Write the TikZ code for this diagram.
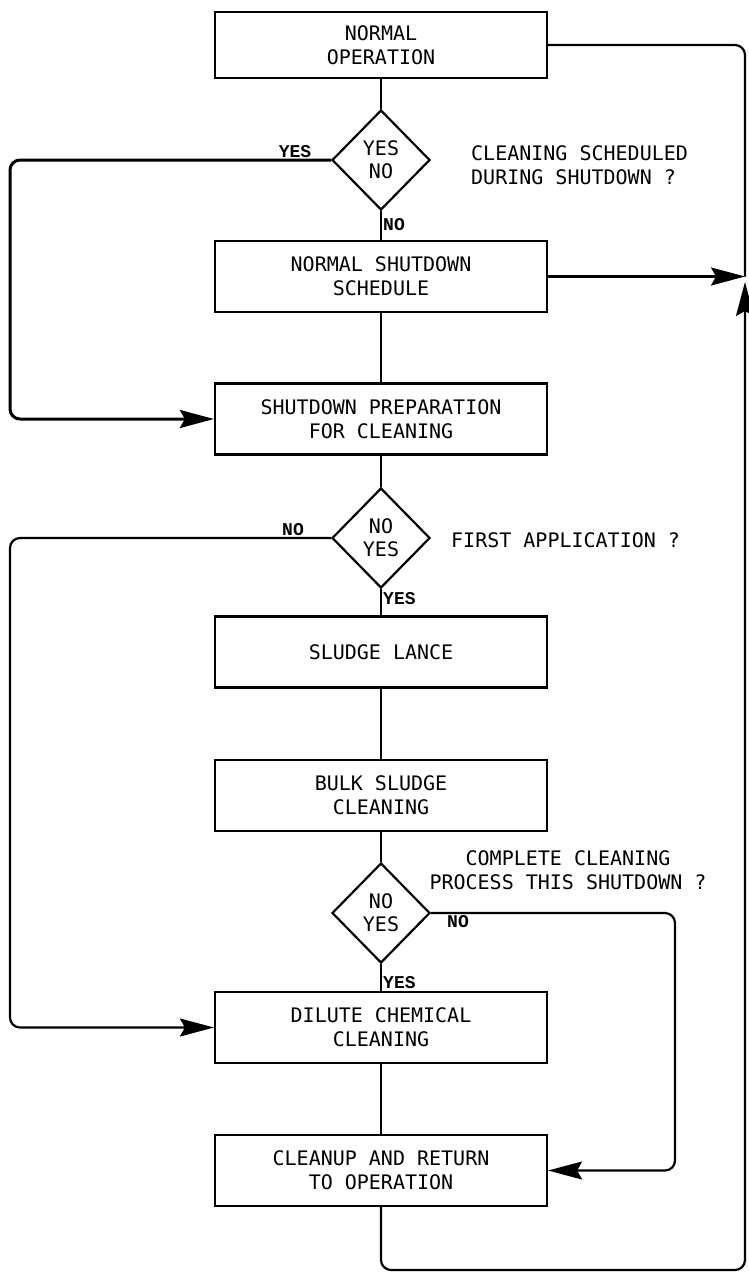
\documentclass[tikz,border=0pt]{standalone}
\usepackage{fontspec}
\newfontfamily\plotter{DejaVu Sans Mono}
\newfontfamily\typer{Liberation Mono}
\usetikzlibrary{arrows.meta,shapes.geometric}

\begin{document}
\begin{tikzpicture}[x=1pt,y=-1pt,
  stepbox/.style={draw,line width=2.2pt,minimum width=332pt,minimum height=71pt,
    inner sep=0pt,align=center,font=\plotter\fontsize{20}{24}\selectfont},
  query/.style={draw,diamond,line width=2.2pt,minimum width=98pt,minimum height=100pt,
    inner sep=0pt,align=center,font=\plotter\fontsize{20}{23}\selectfont},
  tag/.style={inner sep=0pt,font=\typer\bfseries\fontsize{18}{20}\selectfont},
  note/.style={inner sep=0pt,font=\plotter\fontsize{20}{24}\selectfont},
  flow/.style={line width=2.2pt,rounded corners=10pt},
  tip/.style={-{Stealth[length=34pt,width=18pt,inset=5pt]}}]
\useasboundingbox (0,0) rectangle (748,1274);
% main column
\node[stepbox,minimum height=66pt] (oper) at (381,45) {NORMAL\\OPERATION};
\node[query] (sched) at (381,160) {YES\\NO};
\node[stepbox] (normal) at (381,276.5) {NORMAL SHUTDOWN\\SCHEDULE};
\node[stepbox] (prep) at (381,419) {SHUTDOWN PREPARATION\\FOR CLEANING};
\node[query] (first) at (381,538) {NO\\YES};
\node[stepbox] (lance) at (381,652) {SLUDGE LANCE};
\node[stepbox] (bulk) at (381,795.5) {BULK SLUDGE\\CLEANING};
\node[query] (whole) at (381,913) {NO\\YES};
\node[stepbox] (dilute) at (381,1027.5) {DILUTE CHEMICAL\\CLEANING};
\node[stepbox] (cleanup) at (381,1170.5) {CLEANUP AND RETURN\\TO OPERATION};
% questions
\node[note,anchor=west,align=left] (askclean) at (471,165) {CLEANING SCHEDULED\\DURING SHUTDOWN ?};
\node[note,anchor=west] (askfirst) at (451,540) {FIRST APPLICATION ?};
\node[note,align=center] (askwhole) at (568,870) {COMPLETE CLEANING\\PROCESS THIS SHUTDOWN ?};
% branch tags
\node[tag] (yesa) at (295,152) {YES};
\node[tag,anchor=west] (noa) at (383,225) {NO};
\node[tag] (nob) at (293,530) {NO};
\node[tag,anchor=west] (yesb) at (383,599) {YES};
\node[tag,anchor=west] (noc) at (447,922) {NO};
\node[tag,anchor=west] (yesc) at (383,983) {YES};
% rails
\coordinate (leftrail) at (10,0);
\coordinate (midrail) at (675,0);
\coordinate (back) at (745,276.5);
\coordinate (rise) at (745,282);
\coordinate (sweep) at (745,1270);
\foreach \a/\b in {oper/sched,sched/normal,normal/prep,prep/first,first/lance,
  lance/bulk,bulk/whole,whole/dilute,dilute/cleanup}
  \draw[flow] (\a) -- (\b);
\draw[flow] (oper.east) -| (back);
\draw[flow,tip] (normal.east) -- (back);
\draw[flow,tip] (cleanup.south) |- (sweep) -- (rise);
\draw[flow,tip,line width=3pt] (sched.west) -- (sched.west -| leftrail) |- (prep.west);
\draw[flow,tip] (first.west) -- (first.west -| leftrail) |- (dilute.west);
\draw[flow,tip] (whole.east) -- (whole.east -| midrail) |- (cleanup.east);
\end{tikzpicture}
\end{document}
